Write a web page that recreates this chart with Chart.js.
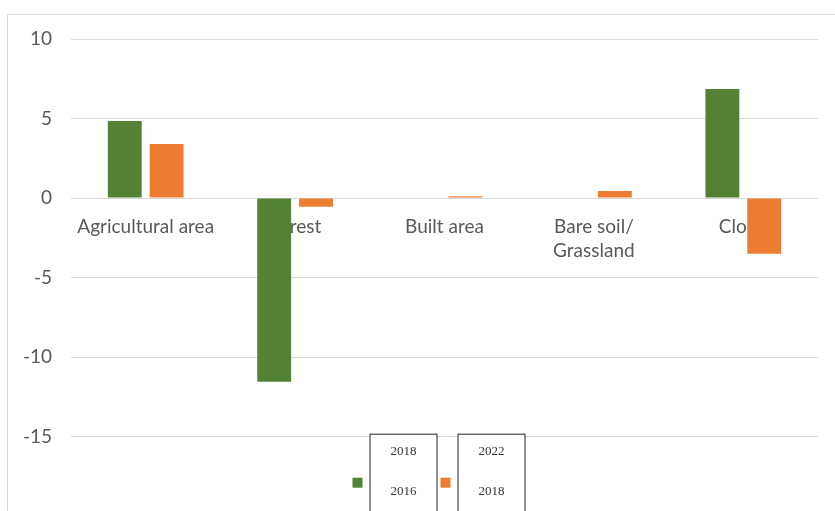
<!DOCTYPE html>
<meta charset="utf-8">
<title>Land cover change</title>
<style>
  html, body { margin: 0; background: #fff; overflow: hidden; }
  #wrap { position: relative; width: 835px; height: 511px; }
  #frame { position: absolute; left: 7px; top: 14px; right: -2px; height: 600px;
           border-left: 1px solid #d9d9d9; border-top: 1px solid #d9d9d9; }
  canvas { position: absolute; left: 0; top: 0; }
</style>
<div id="wrap">
  <div id="frame"></div>
  <canvas id="chart" width="835" height="511"></canvas>
</div>
<script src="https://cdn.jsdelivr.net/npm/chart.js@4"></script>
<script>
  const categories = ["Agricultural area", "Forest", "Built area", ["Bare soil/", "Grassland"], "Cloud"]
  const change2016to2018 = [4.85, -11.55, 0, 0, 6.85]
  const change2018to2022 = [3.4, -0.55, 0.12, 0.45, -3.5]
  const seriesLabels = [["2018", "2016"], ["2022", "2018"]]
  const yTicks = [-15, -10, -5, 0, 5, 10]

  const green = "#548235"
  const orange = "#ed7d31"
  const font = { family: "Lato, 'Open Sans', sans-serif", size: 19, lineHeight: 1.3 }

  // legend drawn like the pasted text boxes under the plot
  const boxLegend = {
    id: "boxLegend",
    afterDraw(chart) {
      const { ctx, chartArea } = chart
      const cx = (chartArea.left + chartArea.right) / 2
      const top = chart.scales.y.getPixelForValue(-15) - 3
      ctx.save()
      ctx.font = "13px 'Liberation Serif', serif"
      ctx.textAlign = "center"
      ctx.textBaseline = "middle"
      chart.data.datasets.forEach((ds, i) => {
        const x0 = cx - 92 + i * 88
        ctx.fillStyle = ds.backgroundColor
        ctx.fillRect(x0, top + 44, 10, 10)
        const bx = x0 + 17
        ctx.fillStyle = "#fff"
        ctx.fillRect(bx, top, 67, 110)
        ctx.strokeStyle = "#222"
        ctx.lineWidth = 1
        ctx.strokeRect(bx + 0.5, top + 0.5, 67, 110)
        ctx.fillStyle = "#333"
        ctx.fillText(ds.label[0], bx + 34, top + 18)
        ctx.fillText(ds.label[1], bx + 34, top + 58)
      })
      ctx.restore()
    },
  }

  new Chart(document.getElementById("chart"), {
    type: "bar",
    data: {
      labels: categories,
      datasets: [
        { label: seriesLabels[0], data: change2016to2018, backgroundColor: green },
        { label: seriesLabels[1], data: change2018to2022, backgroundColor: orange },
      ],
    },
    options: {
      responsive: false,
      animation: false,
      categoryPercentage: 0.56,
      barPercentage: 0.81,
      layout: { padding: { left: 0, top: 39, right: 17, bottom: 0 } },
      plugins: { legend: { display: false }, tooltip: { enabled: false } },
      scales: {
        x: {
          position: { y: 0 },
          grid: { display: false },
          border: { display: false },
          ticks: { color: "#595959", font, padding: 8, maxRotation: 0, autoSkip: false },
        },
        y: {
          min: -17.7,
          max: 10,
          afterBuildTicks: s => { s.ticks = yTicks.map(v => ({ value: v })) },
          afterFit: s => { s.width = 71 },
          grid: { color: "#d9d9d9", drawTicks: false },
          border: { display: false },
          ticks: { color: "#595959", font, padding: 19 },
        },
      },
    },
    plugins: [boxLegend],
  })
</script>
